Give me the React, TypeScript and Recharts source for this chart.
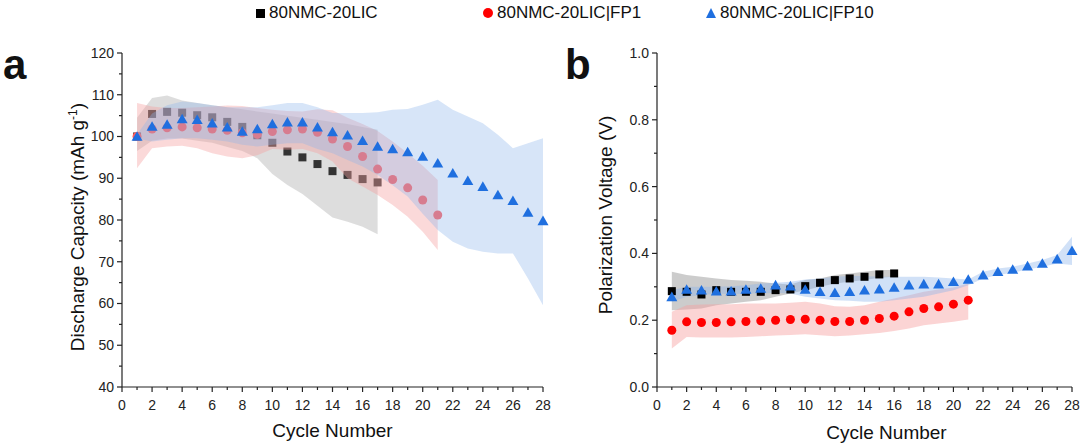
import React from 'react';
import { ComposedChart, Area, Scatter, XAxis, YAxis, Label } from 'recharts';

// ---------------- data ----------------
const cycles = [1, 2, 3, 4, 5, 6, 7, 8, 9, 10, 11, 12, 13, 14, 15, 16, 17, 18, 19, 20, 21, 22, 23, 24, 25, 26, 27, 28];
const xTicks = [0, 1, 2, 3, 4, 5, 6, 7, 8, 9, 10, 11, 12, 13, 14, 15, 16, 17, 18, 19, 20, 21, 22, 23, 24, 25, 26, 27, 28];
const capTicks = [40, 45, 50, 55, 60, 65, 70, 75, 80, 85, 90, 95, 100, 105, 110, 115, 120];
const polTicks = [0, 0.1, 0.2, 0.3, 0.4, 0.5, 0.6, 0.7, 0.8, 0.9, 1.0];
const legendNames = ['80NMC-20LIC', '80NMC-20LIC|FP1', '80NMC-20LIC|FP10'];

// panel a: discharge capacity
const capBlack = [100, 105.4, 105.9, 105.7, 105.1, 104.6, 103.5, 102.3, 100.3, 98.5, 96.4, 95.0, 93.4, 91.7, 90.8, 89.8, 89.0];
const capBlackLow = [96.5, 99.0, 99.5, 99.5, 99.0, 98.5, 97.5, 96.5, 94.8, 91.0, 88.4, 86.2, 83.4, 80.6, 79.6, 78.4, 76.6];
const capBlackHigh = [104.5, 109.2, 109.8, 108.6, 108.0, 107.5, 107.0, 106.5, 106.0, 105.5, 105.0, 104.5, 104.0, 103.5, 103.0, 102.3, 101.6];

const capFP1 = [100, 101.8, 102.1, 102.3, 102.1, 101.8, 101.5, 100.9, 100.5, 101.2, 101.6, 101.8, 101.0, 99.4, 97.6, 95.2, 92.2, 89.7, 87.7, 84.8, 81.2];
const capFP1Low = [92.4, 97.2, 97.6, 97.8, 97.2, 96.0, 95.2, 94.8, 95.5, 97.0, 96.8, 97.0, 96.0, 94.0, 90.0, 88.0, 86.0, 83.6, 80.8, 77.2, 72.8];
const capFP1High = [108.0, 107.2, 106.8, 106.8, 107.0, 107.2, 107.4, 107.3, 106.8, 106.4, 106.1, 106.0, 106.5, 106.3, 104.5, 103.0, 101.3, 98.8, 96.0, 93.0, 89.6];

const capFP10 = [100, 102.4, 102.9, 104.2, 104.0, 103.2, 102.2, 101.2, 101.8, 103.0, 103.4, 103.4, 102.2, 101.1, 100.3, 99.0, 97.6, 97.0, 96.3, 95.2, 93.6, 91.2, 89.4, 88.0, 86.0, 84.6, 81.8, 79.8];
const capFP10Low = [99.5, 98.8, 99.2, 99.6, 99.6, 99.2, 98.8, 98.0, 97.6, 98.0, 98.4, 98.4, 97.0, 96.0, 94.4, 92.8, 90.8, 88.3, 85.6, 81.5, 77.6, 74.8, 73.2, 72.4, 72.0, 72.0, 66.0, 59.6];
const capFP10High = [100.5, 105.5, 107.5, 108.4, 108.0, 107.5, 107.0, 107.0, 107.0, 107.5, 108.0, 108.0, 107.0, 105.6, 105.6, 105.6, 105.8, 106.4, 106.6, 107.6, 108.8, 106.4, 104.8, 103.2, 100.4, 97.2, 98.4, 99.6];

// panel b: polarization voltage
const polBlack = [0.287, 0.285, 0.277, 0.290, 0.285, 0.285, 0.285, 0.290, 0.292, 0.302, 0.312, 0.320, 0.325, 0.330, 0.337, 0.340];
const polBlackLow = [0.230, 0.232, 0.235, 0.245, 0.250, 0.255, 0.260, 0.270, 0.280, 0.290, 0.300, 0.310, 0.315, 0.320, 0.327, 0.330];
const polBlackHigh = [0.345, 0.335, 0.330, 0.325, 0.320, 0.318, 0.315, 0.310, 0.307, 0.320, 0.325, 0.335, 0.340, 0.345, 0.350, 0.350];

const polFP1 = [0.170, 0.195, 0.193, 0.193, 0.195, 0.196, 0.198, 0.200, 0.202, 0.203, 0.200, 0.196, 0.196, 0.200, 0.205, 0.212, 0.225, 0.235, 0.240, 0.248, 0.260];
const polFP1Low = [0.115, 0.150, 0.148, 0.148, 0.148, 0.150, 0.152, 0.154, 0.156, 0.158, 0.155, 0.152, 0.154, 0.158, 0.162, 0.168, 0.175, 0.185, 0.190, 0.195, 0.202];
const polFP1High = [0.225, 0.245, 0.247, 0.248, 0.248, 0.250, 0.250, 0.250, 0.252, 0.255, 0.250, 0.242, 0.240, 0.245, 0.255, 0.265, 0.275, 0.285, 0.292, 0.298, 0.310];

const polFP10 = [0.270, 0.292, 0.290, 0.287, 0.287, 0.292, 0.295, 0.305, 0.302, 0.292, 0.285, 0.282, 0.285, 0.290, 0.293, 0.298, 0.305, 0.308, 0.308, 0.315, 0.322, 0.335, 0.345, 0.352, 0.362, 0.370, 0.383, 0.408];
const polFP10Low = [0.255, 0.270, 0.275, 0.280, 0.278, 0.280, 0.280, 0.282, 0.280, 0.270, 0.265, 0.260, 0.258, 0.255, 0.255, 0.260, 0.265, 0.270, 0.280, 0.290, 0.305, 0.325, 0.335, 0.342, 0.352, 0.360, 0.370, 0.365];
const polFP10High = [0.290, 0.300, 0.300, 0.300, 0.302, 0.305, 0.310, 0.312, 0.315, 0.322, 0.325, 0.330, 0.332, 0.332, 0.330, 0.330, 0.330, 0.330, 0.328, 0.325, 0.322, 0.345, 0.355, 0.360, 0.370, 0.380, 0.395, 0.450];

// ---------------- helpers ----------------
const FONT = '"Liberation Sans", Arial, Helvetica, sans-serif';
const AXIS = '#222';

function bandRows(lowA: number[][], highA: number[][], keys: string[]) {
  return cycles.map((c, i) => {
    const row: any = { cycle: c };
    keys.forEach((k, j) => {
      row[k] = i < lowA[j].length ? [lowA[j][i], highA[j][i]] : null;
    });
    return row;
  });
}
function pts(vals: number[]) {
  return vals.map((v, i) => ({ cycle: cycles[i], v }));
}

const rowsA = bandRows([capBlackLow, capFP1Low, capFP10Low], [capBlackHigh, capFP1High, capFP10High], ['gray', 'pink', 'blue']);
const rowsB = bandRows([polBlackLow, polFP1Low, polFP10Low], [polBlackHigh, polFP1High, polFP10High], ['gray', 'pink', 'blue']);

const sq = (color: string, s: number) => (p: any) =>
  p.cx == null || p.cy == null ? <g /> : <rect x={p.cx - s / 2} y={p.cy - s / 2} width={s} height={s} fill={color} />;
const ci = (color: string, d: number) => (p: any) =>
  p.cx == null || p.cy == null ? <g /> : <circle cx={p.cx} cy={p.cy} r={d / 2} fill={color} />;
const tri = (color: string, w: number) => (p: any) => {
  if (p.cx == null || p.cy == null) return <g />;
  const h = w * 0.87;
  return (
    <polygon
      points={`${p.cx},${p.cy - h * 0.55} ${p.cx - w / 2},${p.cy + h * 0.45} ${p.cx + w / 2},${p.cy + h * 0.45}`}
      fill={color}
    />
  );
};

const XTick = (props: any) => {
  const { x, y, payload } = props;
  const v = payload.value;
  const major = Math.round(v) % 2 === 0;
  return (
    <g>
      <line x1={x} x2={x} y1={y} y2={y + (major ? 5 : 3)} stroke={AXIS} strokeWidth={1.2} />
      {major && (
        <text x={x} y={y + 23} textAnchor="middle" fontSize={14} fill="#222" fontFamily={FONT}>
          {v}
        </text>
      )}
    </g>
  );
};

const makeYTick = (isMajor: (v: number) => boolean, fmt: (v: number) => string) => (props: any) => {
  const { x, y, payload } = props;
  const v = payload.value;
  const major = isMajor(v);
  return (
    <g>
      <line x1={x - (major ? 5 : 3)} x2={x} y1={y} y2={y} stroke={AXIS} strokeWidth={1.2} />
      {major && (
        <text x={x - 8} y={y} dy="0.35em" textAnchor="end" fontSize={14} fill="#222" fontFamily={FONT}>
          {fmt(v)}
        </text>
      )}
    </g>
  );
};
const YTickA = makeYTick((v) => v % 10 === 0, (v) => String(v));
const YTickB = makeYTick((v) => Math.round(v * 10) % 2 === 0, (v) => v.toFixed(1));

const xTitle = (shift: number, dy: number) => (props: any) => {
  const vb = props.viewBox || { x: 0, y: 0, width: 0 };
  return (
    <text x={vb.x + vb.width / 2 + shift} y={vb.y + dy} textAnchor="middle" fontSize={19} fill="#111" fontFamily={FONT}>
      Cycle Number
    </text>
  );
};

const yTitleA = (props: any) => {
  const vb = props.viewBox || { x: 0, y: 0, height: 0 };
  const cx = vb.x + 77;
  const cy = vb.y + vb.height / 2 + 7;
  return (
    <text x={cx} y={cy} transform={`rotate(-90 ${cx} ${cy})`} textAnchor="middle" dy="0.35em" fontSize={19} fill="#111" fontFamily={FONT}>
      Discharge Capacity (mAh g
      <tspan fontSize={12} dy={-7}>-1</tspan>
      <tspan dy={7}>)</tspan>
    </text>
  );
};
const yTitleB = (props: any) => {
  const vb = props.viewBox || { x: 0, y: 0, height: 0 };
  const cx = vb.x + 45;
  const cy = vb.y + vb.height / 2 - 5;
  return (
    <text x={cx} y={cy} transform={`rotate(-90 ${cx} ${cy})`} textAnchor="middle" dy="0.35em" fontSize={19} fill="#111" fontFamily={FONT}>
      Polarization Voltage (V)
    </text>
  );
};

const frameAxes = (yDomain: number[]) => [
  <XAxis key="ft" xAxisId="top" orientation="top" type="number" domain={[0, 28]} height={0} tick={false} tickLine={false} axisLine={{ stroke: AXIS, strokeWidth: 1.2 }} />,
  <YAxis key="fr" yAxisId="right" orientation="right" type="number" domain={yDomain} width={0} tick={false} tickLine={false} axisLine={{ stroke: AXIS, strokeWidth: 1.2 }} />,
];

function PanelA() {
  return (
    <ComposedChart width={560} height={447} data={rowsA} margin={{ top: 53, right: 17, bottom: 0, left: 0 }}>
      <XAxis dataKey="cycle" type="number" domain={[0, 28]} ticks={xTicks} interval={0} tickSize={0} tickMargin={0} tickLine={false} tick={<XTick />} axisLine={{ stroke: AXIS, strokeWidth: 1.2 }} height={60}>
        <Label content={xTitle(0, 50)} />
      </XAxis>
      <YAxis type="number" domain={[40, 120]} ticks={capTicks} interval={0} tickSize={0} tickMargin={0} tickLine={false} tick={<YTickA />} axisLine={{ stroke: AXIS, strokeWidth: 1.2 }} width={122}>
        <Label content={yTitleA} />
      </YAxis>
      {frameAxes([40, 120])}
      <Area dataKey="gray" type="linear" stroke="none" fill="#b4b4b4" fillOpacity={0.45} isAnimationActive={false} zIndex={100} />
      <Scatter data={pts(capBlack)} dataKey="v" shape={sq('#333333', 8)} isAnimationActive={false} zIndex={110} />
      <Area dataKey="pink" type="linear" stroke="none" fill="#f4a0a0" fillOpacity={0.4} isAnimationActive={false} zIndex={120} />
      <Scatter data={pts(capFP1)} dataKey="v" shape={ci('#ff5f5f', 9)} isAnimationActive={false} zIndex={130} />
      <Area dataKey="blue" type="linear" stroke="none" fill="#8db4ea" fillOpacity={0.35} isAnimationActive={false} zIndex={140} />
      <Scatter data={pts(capFP10)} dataKey="v" shape={tri('#1f6fdf', 11)} isAnimationActive={false} zIndex={150} />
    </ComposedChart>
  );
}

function PanelB() {
  return (
    <ComposedChart width={520} height={447} data={rowsB} margin={{ top: 53, right: 8, bottom: 0, left: 0 }}>
      <XAxis dataKey="cycle" type="number" domain={[0, 28]} ticks={xTicks} interval={0} tickSize={0} tickMargin={0} tickLine={false} tick={<XTick />} axisLine={{ stroke: AXIS, strokeWidth: 1.2 }} height={60}>
        <Label content={xTitle(22, 52)} />
      </XAxis>
      <YAxis type="number" domain={[0, 1]} ticks={polTicks} interval={0} tickSize={0} tickMargin={0} tickLine={false} tick={<YTickB />} axisLine={{ stroke: AXIS, strokeWidth: 1.2 }} width={97}>
        <Label content={yTitleB} />
      </YAxis>
      {frameAxes([0, 1])}
      <Area dataKey="gray" type="linear" stroke="none" fill="#9a9a9a" fillOpacity={0.5} isAnimationActive={false} zIndex={100} />
      <Area dataKey="pink" type="linear" stroke="none" fill="#f7a0a0" fillOpacity={0.45} isAnimationActive={false} zIndex={110} />
      <Area dataKey="blue" type="linear" stroke="none" fill="#8db4ea" fillOpacity={0.4} isAnimationActive={false} zIndex={120} />
      <Scatter data={pts(polBlack)} dataKey="v" shape={sq('#000000', 8)} isAnimationActive={false} zIndex={130} />
      <Scatter data={pts(polFP1)} dataKey="v" shape={ci('#ff0000', 9)} isAnimationActive={false} zIndex={140} />
      <Scatter data={pts(polFP10)} dataKey="v" shape={tri('#1f6fdf', 11)} isAnimationActive={false} zIndex={150} />
    </ComposedChart>
  );
}

const legendMarkers = [
  <div key="m0" style={{ width: 9, height: 9, background: '#000' }} />,
  <div key="m1" style={{ width: 10, height: 10, borderRadius: 5, background: '#ff0000' }} />,
  <div key="m2" style={{ width: 0, height: 0, borderLeft: '5.5px solid transparent', borderRight: '5.5px solid transparent', borderBottom: '10px solid #1f6fdf' }} />,
];
const legendX = [256, 483, 706];

export default function App() {
  return (
    <div style={{ position: 'absolute', left: 0, top: 0, width: 1080, height: 447, background: '#fff', fontFamily: FONT, overflow: 'hidden' }}>
      <div style={{ position: 'absolute', left: 0, top: 0 }}>
        <PanelA />
      </div>
      <div style={{ position: 'absolute', left: 560, top: 0 }}>
        <PanelB />
      </div>
      {legendNames.map((name, i) => (
        <div key={name} style={{ position: 'absolute', left: legendX[i], top: 3, height: 20, display: 'flex', alignItems: 'center', gap: 4, fontSize: 17, color: '#111', whiteSpace: 'nowrap' }}>
          {legendMarkers[i]}
          <span>{name}</span>
        </div>
      ))}
      <div style={{ position: 'absolute', left: 3, top: 44, fontSize: 42, fontWeight: 'bold', lineHeight: '42px', color: '#111' }}>a</div>
      <div style={{ position: 'absolute', left: 565, top: 44, fontSize: 42, fontWeight: 'bold', lineHeight: '42px', color: '#111' }}>b</div>
    </div>
  );
}
